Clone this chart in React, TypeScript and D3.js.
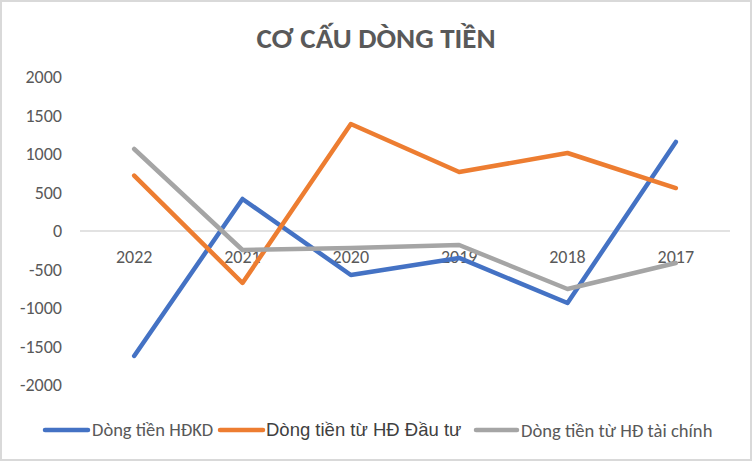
import React from "react";
import * as d3 from "d3";

const categories = ["2022", "2021", "2020", "2019", "2018", "2017"];
const hdkd = [-1623, 416, -571, -350, -935, 1156];
const dautu = [720, -675, 1390, 766, 1013, 558];
const taichinh = [1065, -247, -220, -182, -753, -415];
const yTicks = [2000, 1500, 1000, 500, 0, -500, -1000, -1500, -2000];
const seriesNames = ["Dòng tiền HĐKD", "Dòng tiền từ HĐ Đầu tư", "Dòng tiền từ HĐ tài chính"];
const title = "CƠ CẤU DÒNG TIỀN";

const W = 753, H = 461;
const colors = ["#4472C4", "#ED7D31", "#A5A5A5"];

export default function App() {
  const x = d3.scaleBand().domain(categories).range([80, 730]);
  const y = d3.scaleLinear().domain([-2000, 2000]).range([385, 77]);
  const line = d3.line<number>()
    .x((_, i) => (x(categories[i]) as number) + x.bandwidth() / 2)
    .y((d) => y(d));
  const data = [hdkd, dautu, taichinh];
  const font = "Carlito, Calibri, 'Open Sans', sans-serif";

  const legend = [
    { x1: 45, x2: 88, tx: 92, size: 18.5, fill: "#595959", ff: font },
    { x1: 220, x2: 263, tx: 266, size: 18.5, fill: "#404040", ff: "'Liberation Sans', Arial, sans-serif" },
    { x1: 476, x2: 517, tx: 521, size: 18.6, fill: "#595959", ff: font },
  ];

  return (
    <svg width={W} height={H} style={{ position: "absolute", left: 0, top: 0, background: "#fff" }} fontFamily={font}>
      <rect x={1} y={1} width={750} height={459} fill="#fff" stroke="#D9D9D9" strokeWidth={2} />
      <text x={376} y={48} textAnchor="middle" fontSize={29} fontWeight="bold" fill="#595959">{title}</text>
      {yTicks.map((t) => (
        <text key={t} x={62} y={y(t)} dy="0.35em" textAnchor="end" fontSize={18} fill="#595959">{t}</text>
      ))}
      <line x1={80} x2={730} y1={y(0)} y2={y(0)} stroke="#D9D9D9" strokeWidth={1.5} />
      {categories.map((c) => (
        <text key={c} x={(x(c) as number) + x.bandwidth() / 2} y={y(0) + 26} dy="0.35em" textAnchor="middle" fontSize={18} fill="#595959">{c}</text>
      ))}
      {data.map((d, i) => (
        <path key={i} d={line(d) || ""} fill="none" stroke={colors[i]} strokeWidth={4.5} strokeLinecap="round" strokeLinejoin="round" />
      ))}
      {legend.map((l, i) => (
        <g key={i}>
          <line x1={l.x1} x2={l.x2} y1={430} y2={430} stroke={colors[i]} strokeWidth={4.5} strokeLinecap="round" />
          <text x={l.tx} y={430} dy="0.35em" fontSize={l.size} fill={l.fill} fontFamily={l.ff}>{seriesNames[i]}</text>
        </g>
      ))}
    </svg>
  );
}
